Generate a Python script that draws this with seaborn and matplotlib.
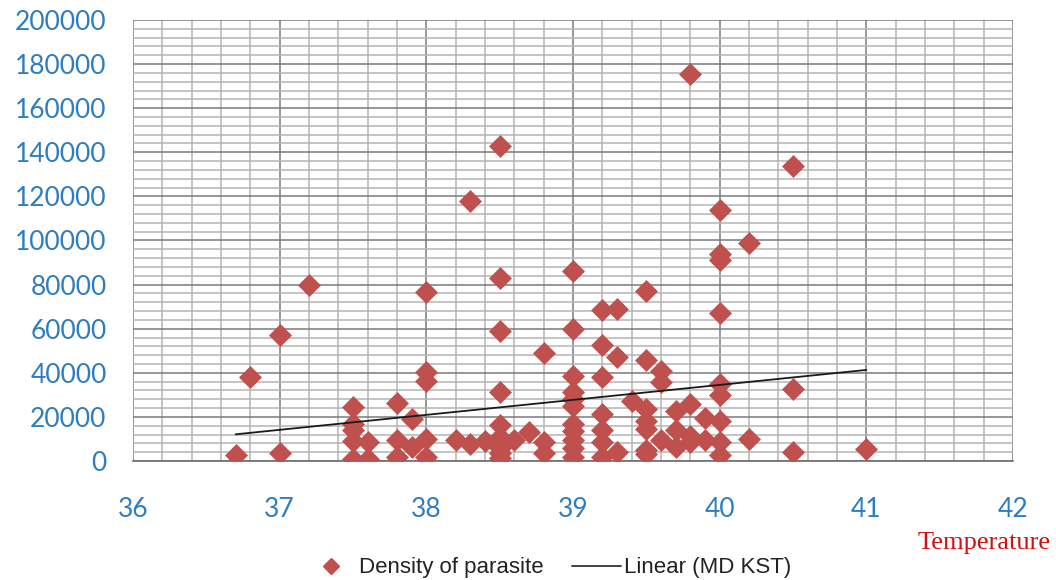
import numpy as np
import pandas as pd
import matplotlib
matplotlib.use("Agg")
import matplotlib.pyplot as plt
from matplotlib.lines import Line2D
import seaborn as sns

# ---- data ----
temperature = [
    36.7, 36.8, 37.0, 37.0, 37.2,
    37.5, 37.5, 37.5, 37.5, 37.5,
    37.6, 37.6,
    37.8, 37.8, 37.8,
    37.9, 37.9,
    38.0, 38.0, 38.0, 38.0, 38.0,
    38.2, 38.3, 38.3, 38.4,
    38.5, 38.5, 38.5, 38.5, 38.5, 38.5, 38.5, 38.5, 38.5, 38.5,
    38.6, 38.7,
    38.8, 38.8, 38.8,
    39.0, 39.0, 39.0, 39.0, 39.0, 39.0, 39.0, 39.0, 39.0, 39.0, 39.0,
    39.2, 39.2, 39.2, 39.2, 39.2, 39.2, 39.2,
    39.3, 39.3, 39.3,
    39.4,
    39.5, 39.5, 39.5, 39.5, 39.5, 39.5, 39.5,
    39.6, 39.6, 39.6,
    39.7, 39.7, 39.7,
    39.8, 39.8, 39.8, 39.8,
    39.9, 39.9,
    40.0, 40.0, 40.0, 40.0, 40.0, 40.0, 40.0, 40.0, 40.0,
    40.2, 40.2,
    40.5, 40.5, 40.5,
    41.0,
]
density = [
    2500, 38000, 57000, 3500, 80000,
    24500, 17000, 14000, 9000, 1000,
    8500, 1000,
    26500, 9500, 2000,
    19000, 6500,
    76500, 40500, 36500, 10000, 2000,
    9500, 118000, 7500, 9000,
    143000, 83000, 59000, 31500, 16500, 11000, 9000, 6000, 3500, 1500,
    9500, 13000,
    49000, 8500, 3500,
    86000, 60000, 38500, 31500, 28000, 25000, 17000, 13500, 9500, 6000, 2000,
    68500, 52500, 38000, 21500, 14000, 8500, 2000,
    69000, 47000, 4200,
    27000,
    77000, 46000, 23500, 18000, 14500, 5000, 3000,
    41000, 36000, 9500,
    22500, 14000, 6500,
    175500, 26000, 11500, 8500,
    19500, 9500,
    114000, 94000, 91000, 67000, 35000, 30000, 18000, 8500, 2700,
    99000, 10000,
    134000, 32500, 4200,
    5300,
]
# linear trend line (MD KST) as drawn in the reference: end points
trend_temperature = [36.7, 41.0]
trend_density = [12100, 41300]

x_ticks = [36, 37, 38, 39, 40, 41, 42]
y_ticks = [0, 20000, 40000, 60000, 80000, 100000, 120000, 140000, 160000, 180000, 200000]
series_label = "Density of parasite"
trend_label = "Linear (MD KST)"
x_title = "Temperature"

df = pd.DataFrame({"temperature": temperature, "density": density})
trend_df = pd.DataFrame({"temperature": trend_temperature, "density": trend_density})

sns.set_style("white")
plt.rcParams["font.family"] = ["Lato", "DejaVu Sans"]

fig = plt.figure(figsize=(10.56, 5.80), dpi=100)
ax = fig.add_axes([133 / 1056, 1 - 461 / 580, (1013 - 133) / 1056, (461 - 20) / 580])

# grid
ax.set_xlim(36, 42)
ax.set_ylim(0, 200000)
ax.set_xticks(x_ticks)
ax.set_yticks(y_ticks)
ax.set_xticks(np.arange(36, 42.001, 0.2), minor=True)
ax.set_yticks(np.arange(0, 200001, 4000), minor=True)
ax.grid(which="minor", color="#b4b4b4", linewidth=1.1)
ax.grid(which="major", color="#7a7a7a", linewidth=1.1)
ax.set_axisbelow(True)

sns.scatterplot(data=df, x="temperature", y="density", marker="D", s=125,
                color="#C0504D", edgecolor="#C0504D", linewidth=0.5, ax=ax,
                zorder=3, legend=False)

sns.lineplot(data=trend_df, x="temperature", y="density", color="#1a1a1a",
             linewidth=1.3, ax=ax, zorder=4, legend=False)

for s in ["top", "right", "left"]:
    ax.spines[s].set_visible(False)
ax.spines["bottom"].set_color("#6e6e6e")
ax.spines["bottom"].set_linewidth(1.2)

ax.set_xlabel("")
ax.set_ylabel("")
ax.tick_params(axis="x", which="major", length=8, width=1, color="#6e6e6e",
               pad=18, labelsize=19, labelcolor="#2E7DC0", direction="out")
ax.tick_params(axis="y", which="major", length=10, width=1, color="#7a7a7a",
               pad=9, labelsize=19, labelcolor="#2E7DC0", direction="out")
ax.tick_params(which="minor", length=0)
ax.set_xticklabels([str(v) for v in x_ticks])
ax.set_yticklabels([str(v) for v in y_ticks])

fig.text(984 / 1056, 1 - 543 / 580, x_title, color="#D01010",
         family=["Liberation Serif", "DejaVu Serif"], fontsize=19,
         ha="center", va="center")

handles = [
    Line2D([], [], marker="D", color="#C0504D", linestyle="none", markersize=8),
    Line2D([], [], color="#333333", linewidth=1.3),
]
fig.legend(handles, [series_label, trend_label], ncol=2, frameon=False,
           loc="center", bbox_to_anchor=(549 / 1056, 1 - 568 / 580),
           prop={"family": ["Liberation Sans", "DejaVu Sans"], "size": 16},
           labelcolor="#222222", handlelength=2.2, handletextpad=0.15,
           columnspacing=1.3)

fig.savefig("out.png", dpi=100)
